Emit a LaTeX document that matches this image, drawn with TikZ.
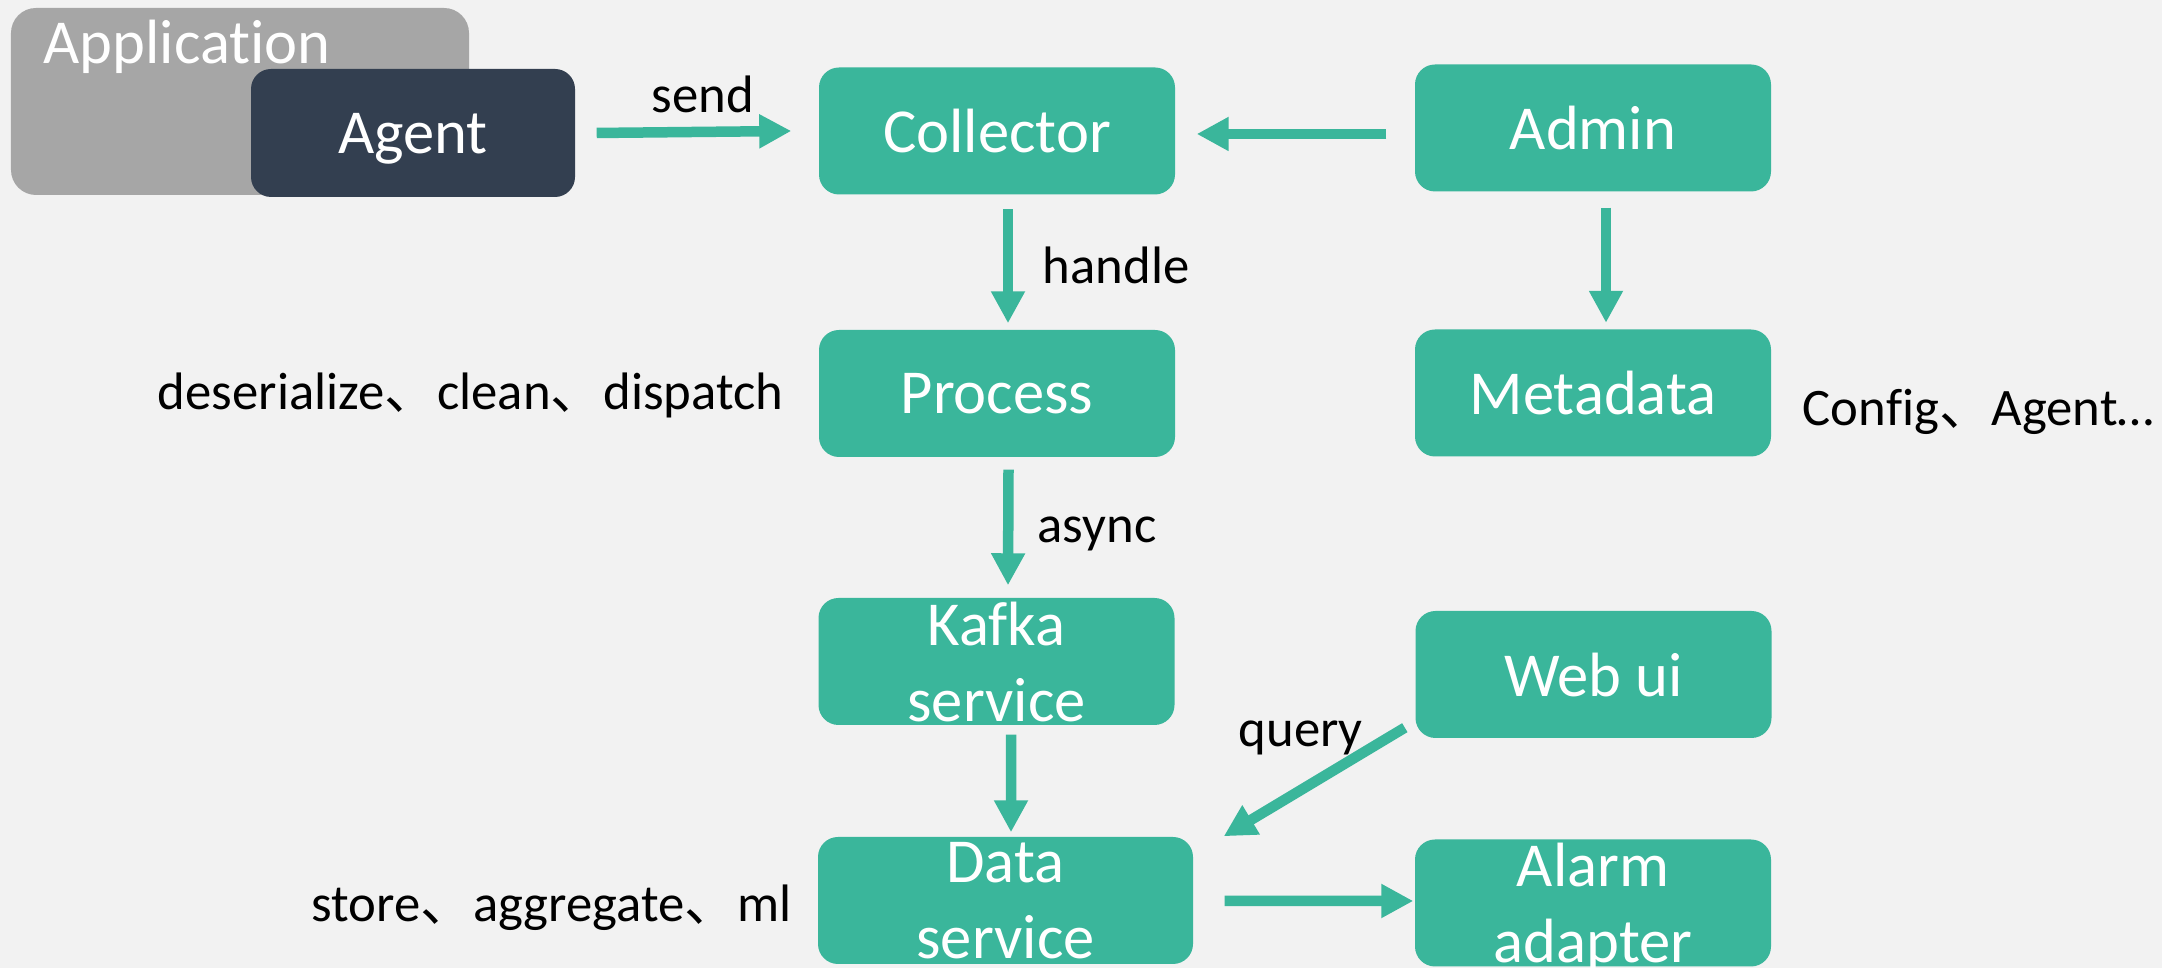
\documentclass[tikz,border=0pt]{standalone}
\usepackage{fontspec}
\setmainfont{Carlito}[RawFeature={-liga;-calt;-clig}]
\newfontfamily\cjk{Noto Sans CJK SC}
\usetikzlibrary{arrows.meta}
\usepackage{xcolor}
\definecolor{svcgreen}{RGB}{58,182,155}
\definecolor{agentblue}{RGB}{51,63,80}
\definecolor{appgray}{RGB}{166,166,166}
\definecolor{canvas}{RGB}{242,242,242}
\newcommand{\dun}{{\cjk 、}}

\begin{document}
\begin{tikzpicture}[
    box/.style={fill=svcgreen, rounded corners=0.2cm, minimum width=3.56cm, minimum height=1.27cm,
      inner sep=0pt, text=white, align=center, text depth=0pt, font=\fontsize{17.8}{21.6}\selectfont},
    flow/.style={svcgreen, line width=0.105cm, -{Triangle[length=0.32cm, width=0.32cm]}},
    note/.style={inner sep=0pt, font=\fontsize{15}{18}\selectfont}]
  \fill[canvas] (0,0) rectangle (21.62,9.68);
  \useasboundingbox (0,0) rectangle (21.62,9.68);

  % application with the agent inside it
  \node[fill=appgray, rounded corners=0.25cm, minimum width=4.58cm, minimum height=1.87cm] (app) at (2.40,8.665) {};
  \node[inner sep=0pt, text=white, font=\fontsize{17.8}{21.6}\selectfont, anchor=base west] (apptxt) at (0.43,9.04) {Application};
  \node[box, fill=agentblue, minimum width=3.24cm, minimum height=1.28cm] (agent) at (4.13,8.35) {Agent};

  % services
  \node[box] (collector) at (9.97,8.37) {Collector};
  \node[box] (admin) at (15.93,8.40) {Admin};
  \node[box] (process) at (9.97,5.745) {Process};
  \node[box] (meta) at (15.93,5.75) {Metadata};
  \node[box] (kafka) at (9.965,3.065) {Kafka\\service};
  \node[box] (webui) at (15.935,2.935) {Web ui};
  \node[box, minimum width=3.75cm] (data) at (10.055,0.675) {Data\\service};
  \node[box] (alarm) at (15.93,0.65) {Alarm\\adapter};

  % flows
  \draw[flow] ([xshift=0.21cm]agent.east) -- ([xshift=-0.27cm]collector.west);
  \draw[flow] ([xshift=-0.28cm,yshift=-0.06cm]admin.west) -- ([xshift=0.21cm,yshift=-0.03cm]collector.east);
  \draw[flow] ([xshift=0.11cm,yshift=-0.14cm]collector.south) -- ([xshift=0.11cm,yshift=0.06cm]process.north);
  \draw[flow] ([xshift=0.13cm,yshift=-0.155cm]admin.south) -- ([xshift=0.13cm,yshift=0.06cm]meta.north);
  \draw[flow] ([xshift=0.115cm,yshift=-0.12cm]process.south) -- ([xshift=0.115cm,yshift=0.12cm]kafka.north);
  \draw[flow] ([xshift=0.145cm,yshift=-0.09cm]kafka.south) -- ([xshift=0.055cm,yshift=0.04cm]data.north);
  \draw[flow] ([xshift=-0.10cm,yshift=0.11cm]webui.south west) -- ([xshift=0.30cm]data.north east);
  \draw[flow] ([xshift=0.31cm,yshift=-0.005cm]data.east) -- ([xshift=-0.01cm,yshift=0.02cm]alarm.west);

  % labels
  \node[note, anchor=base] (send) at (7.03,8.55) {send};
  \node[note, anchor=base west] (handle) at (10.42,6.84) {handle};
  \node[note, anchor=base west] (async) at (10.37,4.25) {async};
  \node[note, anchor=base west] (query) at (12.38,2.21) {query};
  \node[note, anchor=base east] (prosteps) at (7.84,5.58) {deserialize\dun clean\dun dispatch};
  \node[note, anchor=base west] (metainfo) at (18.02,5.42) {Config\dun Agent…};
  \node[note, anchor=base east] (datasteps) at (7.92,0.46) {store\dun aggregate\dun ml};
\end{tikzpicture}
\end{document}
